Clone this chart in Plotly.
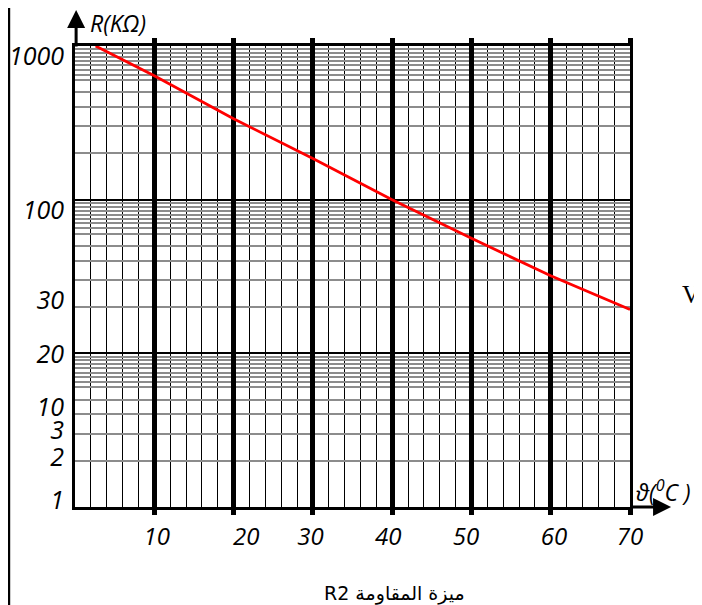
import plotly.graph_objects as go

# Data (true log-paper scale)
theta = [2.6, 10, 20, 30, 40, 50, 60, 70]
resistance = [1000, 640, 336, 185, 100, 56, 32, 19.3]

# Grid definition
x_major = [10, 20, 30, 40, 50, 60, 70]
x_minor = [v for v in range(2, 70, 2) if v % 10 != 0]
y_major = [1, 10, 100, 1000]
minor_fracs = [2, 3, 4, 5, 6, 6.5, 7, 7.5, 8, 8.5, 9, 9.5]
y_minor = [f * d for d in (1, 10, 100) for f in minor_fracs]

# Tick labels as hand-placed on the reference
x_label_pos = [10.3, 21.6, 29.7, 39.5, 49.3, 60.4, 70]
x_label_text = ["10", "20", "30", "40", "50", "60", "70"]
y_label_pos = [860, 85.7, 22.2, 9.9, 4.47, 3.17, 2.11, 1.11]
y_label_text = ["1000", "100", "30", "20", "10", "3", "2", "1"]

x_lab_font = dict(family="Open Sans", size=24, color="black", style="italic")
y_lab_font = dict(family="Open Sans", size=25, color="black", style="italic")

fig = go.Figure()
fig.add_trace(go.Scatter(x=theta, y=resistance, mode="lines",
                         line=dict(color="#ff0000", width=2.8),
                         showlegend=False, hoverinfo="skip"))
fig.add_trace(go.Scatter(x=[], y=[], xaxis="x2", yaxis="y2", showlegend=False))

# The page body has an 8px margin, so the figure is 8px smaller
fig.update_layout(
    width=694, height=597, autosize=False,
    margin=dict(l=67, r=72, t=38, b=98),
    paper_bgcolor="white", plot_bgcolor="white",
    xaxis=dict(range=[0, 70], tickvals=x_major, showticklabels=False,
               automargin=False,
               showgrid=True, gridcolor="black", gridwidth=4.5,
               ticks="outside", ticklen=5, tickwidth=4.5, tickcolor="black",
               showline=True, linecolor="black", linewidth=3, mirror="ticks",
               zeroline=False,
               minor=dict(tickvals=x_minor, showgrid=True, gridcolor="black",
                          gridwidth=1.4, ticks="")),
    yaxis=dict(type="log", range=[0, 3], tickvals=y_major, showticklabels=False,
               automargin=False,
               showgrid=True, gridcolor="black", gridwidth=2,
               ticks="", showline=True, linecolor="black", linewidth=3,
               mirror=True, zeroline=False,
               minor=dict(tickvals=y_minor, showgrid=True, gridcolor="#8c8c8c",
                          gridwidth=1.5, ticks="")),
    xaxis2=dict(overlaying="x", anchor="y", side="bottom", range=[0, 70],
                automargin=False,
                tickvals=x_label_pos, ticktext=x_label_text, showgrid=False,
                showline=False, zeroline=False, ticks="", tickfont=x_lab_font,
                ticklabelstandoff=13),
    yaxis2=dict(overlaying="y", anchor="x", side="left", type="log", range=[0, 3],
                automargin=False,
                tickvals=y_label_pos, ticktext=y_label_text, showgrid=False,
                showline=False, zeroline=False, ticks="", tickfont=y_lab_font,
                ticklabelstandoff=10),
)

# Axis arrows
fig.add_annotation(xref="paper", yref="paper", x=1.074, y=0, ax=-42, ay=0,
                   text="", showarrow=True, arrowhead=2, arrowsize=1.2,
                   arrowwidth=3, arrowcolor="black")
fig.add_annotation(xref="paper", yref="paper", x=0.002, y=1.078, ax=0, ay=38,
                   text="", showarrow=True, arrowhead=2, arrowsize=1.2,
                   arrowwidth=3, arrowcolor="black")

# Axis titles and other texts
fig.add_annotation(xref="paper", yref="paper", x=0.024, y=1.05, xanchor="left",
                   yanchor="middle", text="R(KΩ)", showarrow=False,
                   font=dict(family="Open Sans", size=23, color="black", style="italic"))
fig.add_annotation(xref="paper", yref="paper", x=1.008, y=0.035, xanchor="left",
                   yanchor="middle", text="ϑ(<sup>0</sup>C )", showarrow=False,
                   font=dict(family="Open Sans", size=23, color="black", style="italic"))
fig.add_annotation(xref="paper", yref="paper", x=1.09, y=0.46, xanchor="left",
                   yanchor="middle", text="V", showarrow=False,
                   font=dict(family="Liberation Serif", size=25, color="black"))
fig.add_annotation(xref="paper", yref="paper", x=0.575, y=-0.187, xanchor="center",
                   yanchor="middle", text="\u202bميزة المقاومة R2\u202c", showarrow=False,
                   font=dict(family="DejaVu Sans", size=19, color="black"))

# Left page border line
fig.add_shape(type="line", xref="paper", yref="paper", x0=-0.119, x1=-0.119,
              y0=-0.213, y1=1.1, line=dict(color="black", width=2.5))

fig.write_html("out.html")
